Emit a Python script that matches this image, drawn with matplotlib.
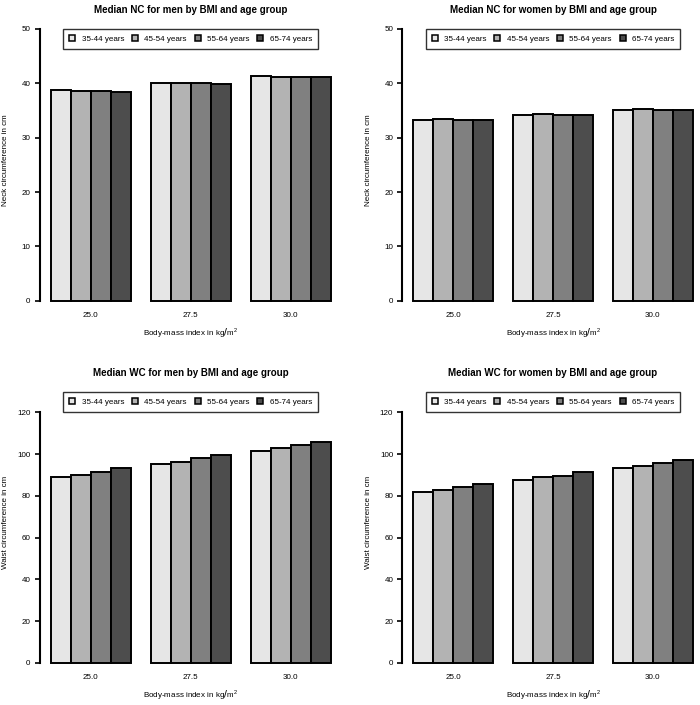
import numpy as np
import matplotlib
matplotlib.use("Agg")
import matplotlib.pyplot as plt

plt.rcParams['font.family'] = ['Liberation Sans', 'DejaVu Sans']
plt.rcParams['mathtext.fontset'] = 'custom'
plt.rcParams['mathtext.rm'] = 'Liberation Sans'
plt.rcParams['mathtext.bf'] = 'DejaVu Sans:bold'

# ---------- DATA ----------
bmi_labels = ["25.0", "27.5", "30.0"]
age_groups = ["35-44 years", "45-54 years", "55-64 years", "65-74 years"]
grays = ["#E6E6E6", "#B3B3B3", "#808080", "#4D4D4D"]

# rows = BMI 25.0 / 27.5 / 30.0, columns = age groups
men_nc = [[38.7, 38.6, 38.6, 38.4],
          [40.1, 40.0, 40.0, 39.8],
          [41.3, 41.2, 41.2, 41.1]]
women_nc = [[33.3, 33.4, 33.3, 33.3],
            [34.2, 34.3, 34.2, 34.2],
            [35.1, 35.2, 35.1, 35.1]]
men_wc = [[88.8, 89.8, 91.6, 93.1],
          [95.1, 96.3, 98.2, 99.4],
          [101.5, 102.7, 104.5, 105.8]]
women_wc = [[81.6, 82.8, 84.1, 85.6],
            [87.4, 88.8, 89.7, 91.3],
            [93.3, 94.5, 95.5, 97.2]]

# title, y label, values, ylim top, top tick, tick step
panels = [
    ("Median NC for men by BMI and age group", "Neck circumference in cm", men_nc, 50, 50, 10),
    ("Median NC for women by BMI and age group", "Neck circumference in cm", women_nc, 50, 50, 10),
    ("Median WC for men by BMI and age group", "Waist circumference in cm", men_wc, 130, 120, 20),
    ("Median WC for women by BMI and age group", "Waist circumference in cm", women_wc, 130, 120, 20),
]

W, H = 700, 705
fig = plt.figure(figsize=(7, 7.05), dpi=100)

# axes boxes in pixels: left, right, top, bottom
boxes = [(39.5, 342.0, 18.1, 311.6),
         (402.1, 704.0, 18.1, 311.6),
         (39.5, 342.0, 380.6, 673.6),
         (402.1, 704.0, 380.6, 673.6)]

fs = 5.8
for k, (title, ylab, vals, ymax, ytop, step) in enumerate(panels):
    l, r, t, b = boxes[k]
    ax = fig.add_axes([l / W, (H - b) / H, (r - l) / W, (b - t) / H])
    vals = np.array(vals)
    for j in range(len(age_groups)):
        lefts = [1 + g * 5 + j for g in range(len(bmi_labels))]
        ax.bar(lefts, vals[:, j], width=1.0, align='edge', color=grays[j],
               edgecolor='black', linewidth=1.4, label=age_groups[j])
    ext = 0.04 * 14
    ax.set_xlim(1 - ext, 15 + ext)
    ax.set_ylim(-0.04 * ymax, ymax * 1.04)

    for s in ['top', 'right', 'bottom']:
        ax.spines[s].set_visible(False)
    ax.spines['left'].set_bounds(0, ytop)
    ax.spines['left'].set_linewidth(1.5)
    ax.set_yticks(np.arange(0, ytop + 0.1, step))
    ax.tick_params(axis='y', length=3.6, width=1.2, pad=2.8, labelsize=fs)
    ax.set_xticks([3, 8, 13])
    ax.set_xticklabels(bmi_labels)
    ax.tick_params(axis='x', length=0, pad=0.6, labelsize=fs)

    ax.text(0.5, 1.0276, title, transform=ax.transAxes, ha='center', va='center',
            fontsize=7.0, fontweight='bold')
    ax.text(0.5, -0.073, r'Body-mass index in kg$\mathbf{/}$m$^2$', transform=ax.transAxes,
            ha='center', va='center', fontsize=fs)
    ax.text(-0.111, 0.515, ylab, transform=ax.transAxes, rotation=90,
            ha='center', va='center', fontsize=fs)

    leg = ax.legend(loc='upper center', bbox_to_anchor=(0.5, 0.962), ncol=4,
                    fontsize=fs, frameon=True, fancybox=False, borderaxespad=0,
                    handlelength=0.75, handleheight=0.75, handletextpad=0.8,
                    columnspacing=0.95, borderpad=0.75)
    leg.get_frame().set_edgecolor('black')
    leg.get_frame().set_linewidth(1.0)
    for h in leg.legend_handles:
        h.set_linewidth(1.1)

fig.savefig("out.png", dpi=100)
